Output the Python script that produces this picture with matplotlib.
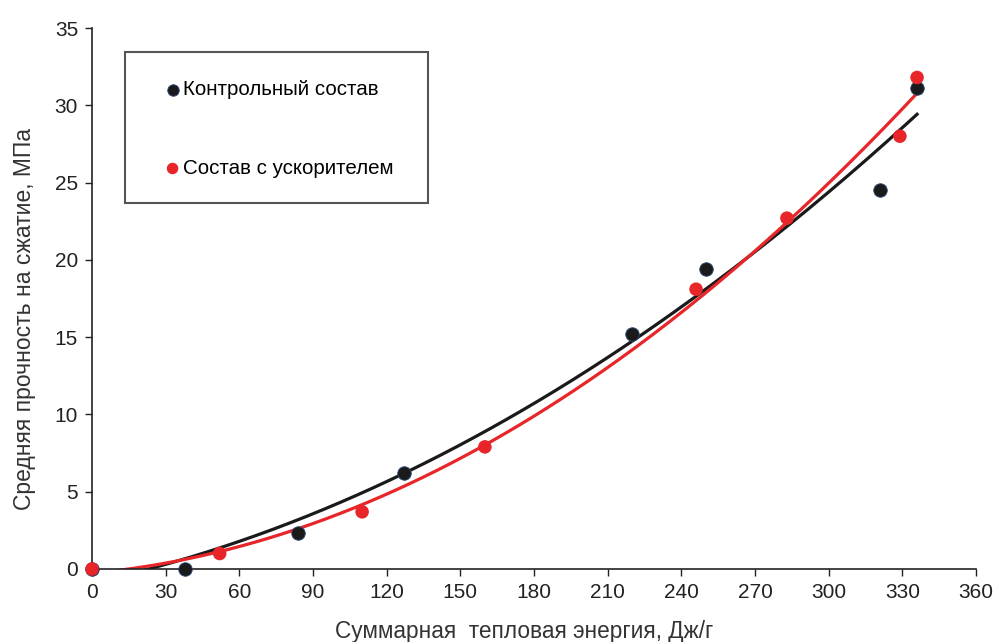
import numpy as np
import matplotlib
matplotlib.use("Agg")
import matplotlib.pyplot as plt
from matplotlib.patches import Rectangle

# данные
energy_ctrl = [0, 38, 84, 127, 220, 250, 321, 336]
strength_ctrl = [0.0, 0.0, 2.3, 6.2, 15.2, 19.4, 24.5, 31.1]
energy_acc = [0, 52, 110, 160, 246, 283, 329, 336]
strength_acc = [0.0, 1.0, 3.7, 7.9, 18.1, 22.7, 28.0, 31.8]

x_ticks = list(range(0, 361, 30))
y_ticks = list(range(0, 36, 5))

plt.rcParams['font.family'] = ['Liberation Sans', 'DejaVu Sans']

fig = plt.figure(figsize=(9.95, 6.42), dpi=100)
ax = fig.add_axes([92 / 995, 1 - 569 / 642, (976 - 92) / 995, (569 - 28) / 642])

# полиномиальные линии тренда (2-я степень)
x_fit = np.linspace(0, 336, 300)
for xs, ys, col in [(energy_ctrl, strength_ctrl, "#1a1a1a"), (energy_acc, strength_acc, "#e8262a")]:
    coeffs = np.polyfit(xs, ys, 2)
    ax.plot(x_fit, np.polyval(coeffs, x_fit), color=col, lw=2.3, zorder=2)

ax.scatter(energy_ctrl, strength_ctrl, s=95, color="#1a1a1a", edgecolors="#2a4a7a",
           linewidths=0.6, zorder=3, label="Контрольный состав", clip_on=False)
ax.scatter(energy_acc, strength_acc, s=95, color="#e8262a", edgecolors="none",
           zorder=4, label="Состав с ускорителем", clip_on=False)

ax.set_xlim(0, 360)
ax.set_ylim(0, 35)
ax.set_xticks(x_ticks)
ax.set_yticks(y_ticks)
ax.tick_params(direction='out', length=5, width=1, labelsize=15, colors="#222222", pad=5)
for side in ['top', 'right']:
    ax.spines[side].set_visible(False)
for side in ['left', 'bottom']:
    ax.spines[side].set_color("#222222")
    ax.spines[side].set_linewidth(1.2)

ax.set_xlabel("Суммарная  тепловая энергия, Дж/г", fontsize=16.3, color="#333333", labelpad=12)
ax.xaxis.set_label_coords(0.489, -0.094)
ax.set_ylabel("Средняя прочность на сжатие, МПа", fontsize=16.5, color="#333333", labelpad=10)
ax.yaxis.set_label_coords(-0.063, 0.463)

# рамка легенды
fig.patches.append(Rectangle((125 / 995, 1 - 203 / 642), 303 / 995, 151 / 642,
                             transform=fig.transFigure, fill=False,
                             edgecolor="#555555", linewidth=1.5))
ax.legend(loc='upper left', bbox_to_anchor=(152 / 995, 1 - 70 / 642),
          bbox_transform=fig.transFigure, frameon=False, fontsize=14.8,
          handletextpad=0.0, handlelength=1.0, labelspacing=2.9, borderpad=0,
          markerscale=0.85)

fig.savefig("out.png", dpi=100)
